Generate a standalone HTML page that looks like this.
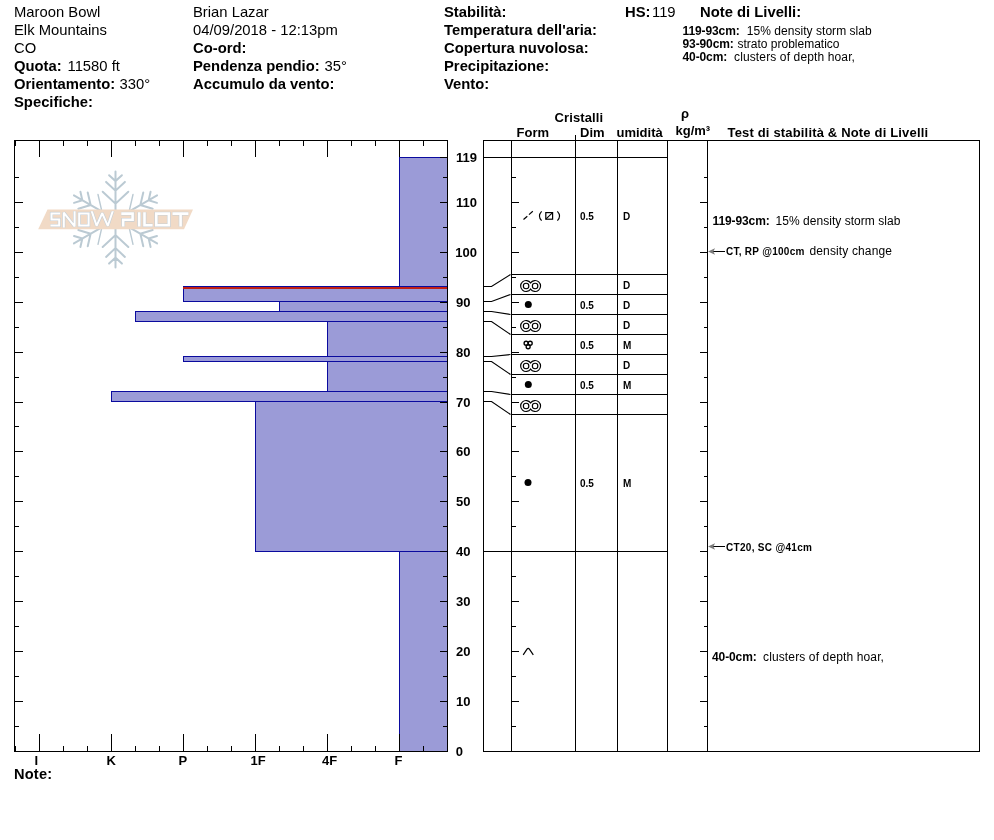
<!DOCTYPE html>
<html><head><meta charset="utf-8"><title>Snow Profile</title>
<style>html,body{margin:0;padding:0;background:#fff}#page{position:relative;width:994px;height:840px;overflow:hidden;background:#fff;will-change:transform;font-family:"Liberation Sans",sans-serif;color:#000}#page svg{position:absolute;left:0;top:0;display:block}#page span{position:absolute;white-space:pre}#page .b{font-weight:bold}</style>
</head><body>
<div id="page">
<svg width="994" height="840" viewBox="0 0 994 840">
<rect width="994" height="840" fill="#fff"/>
<g id="bars" shape-rendering="crispEdges">
<rect x="399" y="157" width="48" height="129" fill="#9b9bd7"/>
<rect x="183" y="286" width="264" height="15" fill="#9b9bd7"/>
<rect x="279" y="301" width="168" height="10" fill="#9b9bd7"/>
<rect x="135" y="311" width="312" height="10" fill="#9b9bd7"/>
<rect x="327" y="321" width="120" height="35" fill="#9b9bd7"/>
<rect x="183" y="356" width="264" height="5" fill="#9b9bd7"/>
<rect x="327" y="361" width="120" height="30" fill="#9b9bd7"/>
<rect x="111" y="391" width="336" height="10" fill="#9b9bd7"/>
<rect x="255" y="401" width="192" height="150" fill="#9b9bd7"/>
<rect x="399" y="551" width="48" height="200" fill="#9b9bd7"/>
<rect x="399" y="157" width="48" height="1" fill="#0a0a9e"/>
<rect x="399" y="286" width="48" height="1" fill="#0a0a9e"/>
<rect x="399" y="157" width="1" height="130" fill="#0a0a9e"/>
<rect x="183" y="286" width="264" height="1" fill="#0a0a9e"/>
<rect x="183" y="301" width="264" height="1" fill="#0a0a9e"/>
<rect x="183" y="286" width="1" height="16" fill="#0a0a9e"/>
<rect x="279" y="301" width="168" height="1" fill="#0a0a9e"/>
<rect x="279" y="311" width="168" height="1" fill="#0a0a9e"/>
<rect x="279" y="301" width="1" height="11" fill="#0a0a9e"/>
<rect x="135" y="311" width="312" height="1" fill="#0a0a9e"/>
<rect x="135" y="321" width="312" height="1" fill="#0a0a9e"/>
<rect x="135" y="311" width="1" height="11" fill="#0a0a9e"/>
<rect x="327" y="321" width="120" height="1" fill="#0a0a9e"/>
<rect x="327" y="356" width="120" height="1" fill="#0a0a9e"/>
<rect x="327" y="321" width="1" height="36" fill="#0a0a9e"/>
<rect x="183" y="356" width="264" height="1" fill="#0a0a9e"/>
<rect x="183" y="361" width="264" height="1" fill="#0a0a9e"/>
<rect x="183" y="356" width="1" height="6" fill="#0a0a9e"/>
<rect x="327" y="361" width="120" height="1" fill="#0a0a9e"/>
<rect x="327" y="391" width="120" height="1" fill="#0a0a9e"/>
<rect x="327" y="361" width="1" height="31" fill="#0a0a9e"/>
<rect x="111" y="391" width="336" height="1" fill="#0a0a9e"/>
<rect x="111" y="401" width="336" height="1" fill="#0a0a9e"/>
<rect x="111" y="391" width="1" height="11" fill="#0a0a9e"/>
<rect x="255" y="401" width="192" height="1" fill="#0a0a9e"/>
<rect x="255" y="551" width="192" height="1" fill="#0a0a9e"/>
<rect x="255" y="401" width="1" height="151" fill="#0a0a9e"/>
<rect x="399" y="551" width="48" height="1" fill="#0a0a9e"/>
<rect x="399" y="551" width="1" height="200" fill="#0a0a9e"/>
<rect x="183" y="287" width="264" height="2" fill="#c02016"/>
</g>
<g id="leftaxes" shape-rendering="crispEdges">
<rect x="14" y="140" width="434" height="1" fill="#000"/>
<rect x="14" y="751" width="434" height="1" fill="#000"/>
<rect x="14" y="140" width="1" height="612" fill="#000"/>
<rect x="447" y="140" width="1" height="612" fill="#000"/>
<rect x="15" y="140" width="1" height="6" fill="#000"/>
<rect x="15" y="746" width="1" height="5" fill="#000"/>
<rect x="39" y="140" width="1" height="17" fill="#000"/>
<rect x="39" y="734" width="1" height="18" fill="#000"/>
<rect x="63" y="140" width="1" height="6" fill="#000"/>
<rect x="63" y="746" width="1" height="6" fill="#000"/>
<rect x="87" y="140" width="1" height="6" fill="#000"/>
<rect x="87" y="746" width="1" height="6" fill="#000"/>
<rect x="111" y="140" width="1" height="17" fill="#000"/>
<rect x="111" y="734" width="1" height="18" fill="#000"/>
<rect x="135" y="140" width="1" height="6" fill="#000"/>
<rect x="135" y="746" width="1" height="6" fill="#000"/>
<rect x="159" y="140" width="1" height="6" fill="#000"/>
<rect x="159" y="746" width="1" height="6" fill="#000"/>
<rect x="183" y="140" width="1" height="17" fill="#000"/>
<rect x="183" y="734" width="1" height="18" fill="#000"/>
<rect x="207" y="140" width="1" height="6" fill="#000"/>
<rect x="207" y="746" width="1" height="6" fill="#000"/>
<rect x="231" y="140" width="1" height="6" fill="#000"/>
<rect x="231" y="746" width="1" height="6" fill="#000"/>
<rect x="255" y="140" width="1" height="17" fill="#000"/>
<rect x="255" y="734" width="1" height="18" fill="#000"/>
<rect x="279" y="140" width="1" height="6" fill="#000"/>
<rect x="279" y="746" width="1" height="6" fill="#000"/>
<rect x="303" y="140" width="1" height="6" fill="#000"/>
<rect x="303" y="746" width="1" height="6" fill="#000"/>
<rect x="327" y="140" width="1" height="17" fill="#000"/>
<rect x="327" y="734" width="1" height="18" fill="#000"/>
<rect x="351" y="140" width="1" height="6" fill="#000"/>
<rect x="351" y="746" width="1" height="6" fill="#000"/>
<rect x="375" y="140" width="1" height="6" fill="#000"/>
<rect x="375" y="746" width="1" height="6" fill="#000"/>
<rect x="399" y="140" width="1" height="17" fill="#000"/>
<rect x="399" y="734" width="1" height="18" fill="#000"/>
<rect x="423" y="140" width="1" height="6" fill="#000"/>
<rect x="423" y="746" width="1" height="6" fill="#000"/>
<rect x="14" y="726" width="5" height="1" fill="#000"/>
<rect x="443" y="726" width="4" height="1" fill="#000"/>
<rect x="14" y="701" width="9" height="1" fill="#000"/>
<rect x="440" y="701" width="7" height="1" fill="#000"/>
<rect x="14" y="676" width="5" height="1" fill="#000"/>
<rect x="443" y="676" width="4" height="1" fill="#000"/>
<rect x="14" y="651" width="9" height="1" fill="#000"/>
<rect x="440" y="651" width="7" height="1" fill="#000"/>
<rect x="14" y="626" width="5" height="1" fill="#000"/>
<rect x="443" y="626" width="4" height="1" fill="#000"/>
<rect x="14" y="601" width="9" height="1" fill="#000"/>
<rect x="440" y="601" width="7" height="1" fill="#000"/>
<rect x="14" y="576" width="5" height="1" fill="#000"/>
<rect x="443" y="576" width="4" height="1" fill="#000"/>
<rect x="14" y="551" width="9" height="1" fill="#000"/>
<rect x="440" y="551" width="7" height="1" fill="#000"/>
<rect x="14" y="526" width="5" height="1" fill="#000"/>
<rect x="443" y="526" width="4" height="1" fill="#000"/>
<rect x="14" y="501" width="9" height="1" fill="#000"/>
<rect x="440" y="501" width="7" height="1" fill="#000"/>
<rect x="14" y="476" width="5" height="1" fill="#000"/>
<rect x="443" y="476" width="4" height="1" fill="#000"/>
<rect x="14" y="451" width="9" height="1" fill="#000"/>
<rect x="440" y="451" width="7" height="1" fill="#000"/>
<rect x="14" y="426" width="5" height="1" fill="#000"/>
<rect x="443" y="426" width="4" height="1" fill="#000"/>
<rect x="14" y="402" width="9" height="1" fill="#000"/>
<rect x="440" y="402" width="7" height="1" fill="#000"/>
<rect x="14" y="377" width="5" height="1" fill="#000"/>
<rect x="443" y="377" width="4" height="1" fill="#000"/>
<rect x="14" y="352" width="9" height="1" fill="#000"/>
<rect x="440" y="352" width="7" height="1" fill="#000"/>
<rect x="14" y="327" width="5" height="1" fill="#000"/>
<rect x="443" y="327" width="4" height="1" fill="#000"/>
<rect x="14" y="302" width="9" height="1" fill="#000"/>
<rect x="440" y="302" width="7" height="1" fill="#000"/>
<rect x="14" y="277" width="5" height="1" fill="#000"/>
<rect x="443" y="277" width="4" height="1" fill="#000"/>
<rect x="14" y="252" width="9" height="1" fill="#000"/>
<rect x="440" y="252" width="7" height="1" fill="#000"/>
<rect x="14" y="227" width="5" height="1" fill="#000"/>
<rect x="443" y="227" width="4" height="1" fill="#000"/>
<rect x="14" y="202" width="9" height="1" fill="#000"/>
<rect x="440" y="202" width="7" height="1" fill="#000"/>
<rect x="14" y="177" width="5" height="1" fill="#000"/>
<rect x="443" y="177" width="4" height="1" fill="#000"/>
<rect x="440" y="157" width="7" height="1" fill="#000"/>
</g>
<g id="table" shape-rendering="crispEdges">
<rect x="483" y="140" width="497" height="1" fill="#000"/>
<rect x="483" y="751" width="497" height="1" fill="#000"/>
<rect x="483" y="140" width="1" height="612" fill="#000"/>
<rect x="511" y="140" width="1" height="612" fill="#000"/>
<rect x="575" y="140" width="1" height="612" fill="#000"/>
<rect x="617" y="140" width="1" height="612" fill="#000"/>
<rect x="667" y="140" width="1" height="612" fill="#000"/>
<rect x="707" y="140" width="1" height="612" fill="#000"/>
<rect x="979" y="140" width="1" height="612" fill="#000"/>
<rect x="575" y="135" width="1" height="5" fill="#000"/>
<rect x="483" y="157" width="184" height="1" fill="#000"/>
<rect x="511" y="274" width="156" height="1" fill="#000"/>
<rect x="511" y="294" width="156" height="1" fill="#000"/>
<rect x="511" y="314" width="156" height="1" fill="#000"/>
<rect x="511" y="334" width="156" height="1" fill="#000"/>
<rect x="511" y="354" width="156" height="1" fill="#000"/>
<rect x="511" y="374" width="156" height="1" fill="#000"/>
<rect x="511" y="394" width="156" height="1" fill="#000"/>
<rect x="511" y="414" width="156" height="1" fill="#000"/>
<rect x="483" y="551" width="184" height="1" fill="#000"/>
<rect x="511" y="726" width="5" height="1" fill="#000"/>
<rect x="704" y="726" width="3" height="1" fill="#000"/>
<rect x="511" y="701" width="8" height="1" fill="#000"/>
<rect x="700" y="701" width="7" height="1" fill="#000"/>
<rect x="511" y="676" width="5" height="1" fill="#000"/>
<rect x="704" y="676" width="3" height="1" fill="#000"/>
<rect x="511" y="651" width="8" height="1" fill="#000"/>
<rect x="700" y="651" width="7" height="1" fill="#000"/>
<rect x="511" y="626" width="5" height="1" fill="#000"/>
<rect x="704" y="626" width="3" height="1" fill="#000"/>
<rect x="511" y="601" width="8" height="1" fill="#000"/>
<rect x="700" y="601" width="7" height="1" fill="#000"/>
<rect x="511" y="576" width="5" height="1" fill="#000"/>
<rect x="704" y="576" width="3" height="1" fill="#000"/>
<rect x="511" y="551" width="8" height="1" fill="#000"/>
<rect x="700" y="551" width="7" height="1" fill="#000"/>
<rect x="511" y="526" width="5" height="1" fill="#000"/>
<rect x="704" y="526" width="3" height="1" fill="#000"/>
<rect x="511" y="501" width="8" height="1" fill="#000"/>
<rect x="700" y="501" width="7" height="1" fill="#000"/>
<rect x="511" y="476" width="5" height="1" fill="#000"/>
<rect x="704" y="476" width="3" height="1" fill="#000"/>
<rect x="511" y="451" width="8" height="1" fill="#000"/>
<rect x="700" y="451" width="7" height="1" fill="#000"/>
<rect x="511" y="426" width="5" height="1" fill="#000"/>
<rect x="704" y="426" width="3" height="1" fill="#000"/>
<rect x="511" y="402" width="8" height="1" fill="#000"/>
<rect x="700" y="402" width="7" height="1" fill="#000"/>
<rect x="511" y="377" width="5" height="1" fill="#000"/>
<rect x="704" y="377" width="3" height="1" fill="#000"/>
<rect x="511" y="352" width="8" height="1" fill="#000"/>
<rect x="700" y="352" width="7" height="1" fill="#000"/>
<rect x="511" y="327" width="5" height="1" fill="#000"/>
<rect x="704" y="327" width="3" height="1" fill="#000"/>
<rect x="511" y="302" width="8" height="1" fill="#000"/>
<rect x="700" y="302" width="7" height="1" fill="#000"/>
<rect x="511" y="277" width="5" height="1" fill="#000"/>
<rect x="704" y="277" width="3" height="1" fill="#000"/>
<rect x="511" y="252" width="8" height="1" fill="#000"/>
<rect x="700" y="252" width="7" height="1" fill="#000"/>
<rect x="511" y="227" width="5" height="1" fill="#000"/>
<rect x="704" y="227" width="3" height="1" fill="#000"/>
<rect x="511" y="202" width="8" height="1" fill="#000"/>
<rect x="700" y="202" width="7" height="1" fill="#000"/>
<rect x="511" y="177" width="5" height="1" fill="#000"/>
<rect x="704" y="177" width="3" height="1" fill="#000"/>
</g>
<g id="conn" fill="none" stroke="#000" stroke-width="1.15">
<path d="M483.5 286.5H491.5L510.5 274.5"/>
<path d="M483.5 301.5H491.5L510.5 294.5"/>
<path d="M483.5 311.5H491.5L510.5 314.5"/>
<path d="M483.5 321.5H491.5L510.5 334.5"/>
<path d="M483.5 356.5H491.5L510.5 354.5"/>
<path d="M483.5 361.5H491.5L510.5 374.5"/>
<path d="M483.5 391.5H491.5L510.5 394.5"/>
<path d="M483.5 401.5H491.5L510.5 414.5"/>
</g>
<g id="sym" stroke="#000" fill="none" stroke-width="1">
<path d="M523.5 219.5L527.3 216.2M529 214.6L532.8 211.3" stroke-width="1.2"/>
<path d="M541.6 211.3Q537.3 216 541.6 220.7M557.4 211.3Q561.7 216 557.4 220.7" stroke-width="1.1"/>
<rect x="545.8" y="212.6" width="6.8" height="6.6" stroke-width="1.2"/><path d="M545.8 219.2L552.6 212.6" stroke-width="1.1"/>
<path d="M530.6 282.93A5.45 5.45 0 1 0 530.6 289.07A5.45 5.45 0 1 0 530.6 282.93Z" stroke-width="1.15"/>
<circle cx="526.1" cy="286" r="2.75" stroke-width="1.15"/>
<circle cx="535.1" cy="286" r="2.75" stroke-width="1.15"/>
<circle cx="528.3" cy="304.5" r="3.5" fill="#000" stroke="none"/>
<path d="M530.6 322.93A5.45 5.45 0 1 0 530.6 329.07A5.45 5.45 0 1 0 530.6 322.93Z" stroke-width="1.15"/>
<circle cx="526.1" cy="326" r="2.75" stroke-width="1.15"/>
<circle cx="535.1" cy="326" r="2.75" stroke-width="1.15"/>
<circle cx="526.1" cy="343.2" r="2.0" stroke-width="1.35"/>
<circle cx="530.2" cy="343.2" r="2.0" stroke-width="1.35"/>
<circle cx="528.15" cy="346.7" r="2.0" stroke-width="1.35"/>
<path d="M530.6 362.93A5.45 5.45 0 1 0 530.6 369.07A5.45 5.45 0 1 0 530.6 362.93Z" stroke-width="1.15"/>
<circle cx="526.1" cy="366" r="2.75" stroke-width="1.15"/>
<circle cx="535.1" cy="366" r="2.75" stroke-width="1.15"/>
<circle cx="528.3" cy="384.5" r="3.5" fill="#000" stroke="none"/>
<path d="M530.6 402.93A5.45 5.45 0 1 0 530.6 409.07A5.45 5.45 0 1 0 530.6 402.93Z" stroke-width="1.15"/>
<circle cx="526.1" cy="406" r="2.75" stroke-width="1.15"/>
<circle cx="535.1" cy="406" r="2.75" stroke-width="1.15"/>
<circle cx="528" cy="482.5" r="3.5" fill="#000" stroke="none"/>
<path d="M523.2 654.8L527 649.2Q528.2 647.6 529.4 649.2L533.3 654.8" stroke-width="1.2"/>
</g>
<path d="M712 251.5H725" stroke="#000" stroke-width="1" fill="none" shape-rendering="crispEdges"/>
<path d="M708 251.5L715 248.2L713.4 251.5L715 254.8Z" fill="#7c7c7c"/>
<path d="M712 546.5H725" stroke="#000" stroke-width="1" fill="none" shape-rendering="crispEdges"/>
<path d="M708 546.5L715 543.2L713.4 546.5L715 549.8Z" fill="#7c7c7c"/>
<g id="logo">
<g transform="translate(115.5 219.4)" stroke="#bbcad3" stroke-width="2" fill="none" stroke-linecap="round">
<path transform="rotate(0)" d="M0 0V-48M-9.4 -37.5L0 -28.7L9.4 -37.5M-6.4 -44.2L0 -38.3L6.4 -44.2M-12.8 -27.6L0 -15.7L12.8 -27.6"/>
<path transform="rotate(60)" d="M0 0V-48M-9.4 -37.5L0 -28.7L9.4 -37.5M-6.4 -44.2L0 -38.3L6.4 -44.2"/><path transform="rotate(60)" d="M-12.8 -27.6L0 -15.7L12.8 -27.6" stroke-width="1.4"/>
<path transform="rotate(120)" d="M0 0V-48M-9.4 -37.5L0 -28.7L9.4 -37.5M-6.4 -44.2L0 -38.3L6.4 -44.2"/><path transform="rotate(120)" d="M-12.8 -27.6L0 -15.7L12.8 -27.6" stroke-width="1.4"/>
<path transform="rotate(180)" d="M0 0V-48M-9.4 -37.5L0 -28.7L9.4 -37.5M-6.4 -44.2L0 -38.3L6.4 -44.2M-12.8 -27.6L0 -15.7L12.8 -27.6"/>
<path transform="rotate(240)" d="M0 0V-48M-9.4 -37.5L0 -28.7L9.4 -37.5M-6.4 -44.2L0 -38.3L6.4 -44.2"/><path transform="rotate(240)" d="M-12.8 -27.6L0 -15.7L12.8 -27.6" stroke-width="1.4"/>
<path transform="rotate(300)" d="M0 0V-48M-9.4 -37.5L0 -28.7L9.4 -37.5M-6.4 -44.2L0 -38.3L6.4 -44.2"/><path transform="rotate(300)" d="M-12.8 -27.6L0 -15.7L12.8 -27.6" stroke-width="1.4"/>
</g>
<path d="M47.5 209.5H193L184 229.3H38.2Z" fill="#f1dac6"/>
<clipPath id="lc"><rect x="40" y="211.2" width="155" height="16.4"/></clipPath><g clip-path="url(#lc)" stroke-miterlimit="2">
<path d="M60.2 213.4H51.5V219.4H59.2V225.6H50.5M63.8 229V212.6L74.6 226.4V210M79.2 213.4H88.6V225.6H79.2ZM91.5 210.4L96.6 225.8L102.2 213.2L107.8 225.8L113 210.4" stroke="#c6cfd6" stroke-width="3.2" fill="none"/>
<path d="M60.2 213.4H51.5V219.4H59.2V225.6H50.5M63.8 229V212.6L74.6 226.4V210M79.2 213.4H88.6V225.6H79.2ZM91.5 210.4L96.6 225.8L102.2 213.2L107.8 225.8L113 210.4" stroke="#fff" stroke-width="2.0" fill="none"/>
<path d="M121.3 213.6H132.6V219.8H123.2V226.5M139.2 212.3V226.5M144.5 212.3V225.3H152.6M156.3 213.6H168.8V225.3H156.3ZM172.5 213.6H188.4M180.6 213.6V226.5" stroke="#c6cfd6" stroke-width="3.8" fill="none"/>
<path d="M121.3 213.6H132.6V219.8H123.2V226.5M139.2 212.3V226.5M144.5 212.3V225.3H152.6M156.3 213.6H168.8V225.3H156.3ZM172.5 213.6H188.4M180.6 213.6V226.5" stroke="#fff" stroke-width="2.6" fill="none"/>
</g>
</g>
</svg>
<span style="left:14px;top:4px;font-size:14.8px;line-height:16px;">Maroon Bowl</span>
<span style="left:14px;top:22px;font-size:14.8px;line-height:16px;">Elk Mountains</span>
<span style="left:14px;top:40px;font-size:14.8px;line-height:16px;">CO</span>
<span class="b" style="left:14px;top:58px;font-size:14.8px;line-height:16px;">Quota:</span>
<span style="left:67.5px;top:58px;font-size:14.8px;line-height:16px;">11580 ft</span>
<span class="b" style="left:14px;top:76px;font-size:14.8px;line-height:16px;">Orientamento:</span>
<span style="left:119.5px;top:76px;font-size:14.8px;line-height:16px;">330°</span>
<span class="b" style="left:14px;top:94px;font-size:14.8px;line-height:16px;">Specifiche:</span>
<span style="left:193px;top:4px;font-size:14.8px;line-height:16px;">Brian Lazar</span>
<span style="left:193px;top:22px;font-size:14.8px;line-height:16px;">04/09/2018 - 12:13pm</span>
<span class="b" style="left:193px;top:40px;font-size:14.8px;line-height:16px;">Co-ord:</span>
<span class="b" style="left:193px;top:58px;font-size:14.8px;line-height:16px;">Pendenza pendio:</span>
<span style="left:324.5px;top:58px;font-size:14.8px;line-height:16px;">35°</span>
<span class="b" style="left:193px;top:76px;font-size:14.8px;line-height:16px;">Accumulo da vento:</span>
<span class="b" style="left:444px;top:4px;font-size:14.8px;line-height:16px;">Stabilità:</span>
<span class="b" style="left:444px;top:22px;font-size:14.8px;line-height:16px;">Temperatura dell'aria:</span>
<span class="b" style="left:444px;top:40px;font-size:14.8px;line-height:16px;">Copertura nuvolosa:</span>
<span class="b" style="left:444px;top:58px;font-size:14.8px;line-height:16px;">Precipitazione:</span>
<span class="b" style="left:444px;top:76px;font-size:14.8px;line-height:16px;">Vento:</span>
<span class="b" style="left:625px;top:4px;font-size:14.8px;line-height:16px;">HS:</span>
<span style="left:652px;top:4px;font-size:14.8px;line-height:16px;">119</span>
<span class="b" style="left:700px;top:4px;font-size:14.8px;line-height:16px;">Note di Livelli:</span>
<span class="b" style="left:682.5px;top:24px;font-size:12px;line-height:14px;letter-spacing:-0.1px;">119-93cm:</span>
<span style="left:746.8px;top:24px;font-size:12px;line-height:14px;letter-spacing:0.04px;">15% density storm slab</span>
<span class="b" style="left:682.5px;top:36px;font-size:12px;line-height:14px;letter-spacing:-0.1px;transform:translateY(0.5px);">93-90cm:</span>
<span style="left:737.5px;top:36px;font-size:12px;line-height:14px;transform:translateY(0.5px);">strato problematico</span>
<span class="b" style="left:682.5px;top:49px;font-size:12px;line-height:14px;letter-spacing:-0.1px;transform:translateY(0.5px);">40-0cm:</span>
<span style="left:734px;top:49px;font-size:12px;line-height:14px;letter-spacing:0.13px;transform:translateY(0.5px);">clusters of depth hoar,</span>
<span class="b" style="left:34.5px;top:752px;font-size:13px;line-height:15px;transform:translateY(0.6px);">I</span>
<span class="b" style="left:106.5px;top:752px;font-size:13px;line-height:15px;transform:translateY(0.6px);">K</span>
<span class="b" style="left:178.5px;top:752px;font-size:13px;line-height:15px;transform:translateY(0.6px);">P</span>
<span class="b" style="left:250.5px;top:752px;font-size:13px;line-height:15px;transform:translateY(0.6px);">1F</span>
<span class="b" style="left:322px;top:752px;font-size:13px;line-height:15px;transform:translateY(0.6px);">4F</span>
<span class="b" style="left:394.5px;top:752px;font-size:13px;line-height:15px;transform:translateY(0.6px);">F</span>
<span class="b" style="left:14px;top:766px;font-size:14.6px;line-height:16px;letter-spacing:0.2px;">Note:</span>
<span class="b" style="right:517.00px;top:150px;font-size:13px;line-height:15px;">119</span>
<span class="b" style="right:517.00px;top:195px;font-size:13px;line-height:15px;">110</span>
<span class="b" style="right:517.00px;top:245px;font-size:13px;line-height:15px;">100</span>
<span class="b" style="right:523.50px;top:295px;font-size:13px;line-height:15px;">90</span>
<span class="b" style="right:523.50px;top:345px;font-size:13px;line-height:15px;">80</span>
<span class="b" style="right:523.50px;top:395px;font-size:13px;line-height:15px;">70</span>
<span class="b" style="right:523.50px;top:444px;font-size:13px;line-height:15px;">60</span>
<span class="b" style="right:523.50px;top:494px;font-size:13px;line-height:15px;">50</span>
<span class="b" style="right:523.50px;top:544px;font-size:13px;line-height:15px;">40</span>
<span class="b" style="right:523.50px;top:594px;font-size:13px;line-height:15px;">30</span>
<span class="b" style="right:523.50px;top:644px;font-size:13px;line-height:15px;">20</span>
<span class="b" style="right:523.50px;top:694px;font-size:13px;line-height:15px;">10</span>
<span class="b" style="right:531.00px;top:744px;font-size:13px;line-height:15px;">0</span>
<span class="b" style="left:554.5px;top:110px;font-size:13px;line-height:15px;letter-spacing:0.12px;">Cristalli</span>
<span class="b" style="left:516.5px;top:125px;font-size:13px;line-height:15px;">Form</span>
<span class="b" style="left:580px;top:125px;font-size:13px;line-height:15px;">Dim</span>
<span class="b" style="left:616.5px;top:125px;font-size:13px;line-height:15px;">umidità</span>
<span class="b" style="left:681px;top:106px;font-size:13px;line-height:15px;">ρ</span>
<span class="b" style="left:675.5px;top:123px;font-size:13px;line-height:15px;">kg/m³</span>
<span class="b" style="left:727.5px;top:125px;font-size:13px;line-height:15px;letter-spacing:0.17px;">Test di stabilità &amp; Note di Livelli</span>
<span class="b" style="left:580px;top:211px;font-size:10px;line-height:11px;">0.5</span>
<span class="b" style="left:623px;top:211px;font-size:10px;line-height:11px;">D</span>
<span class="b" style="left:623px;top:280px;font-size:10px;line-height:11px;">D</span>
<span class="b" style="left:580px;top:300px;font-size:10px;line-height:11px;">0.5</span>
<span class="b" style="left:623px;top:300px;font-size:10px;line-height:11px;">D</span>
<span class="b" style="left:623px;top:320px;font-size:10px;line-height:11px;">D</span>
<span class="b" style="left:580px;top:340px;font-size:10px;line-height:11px;">0.5</span>
<span class="b" style="left:623px;top:340px;font-size:10px;line-height:11px;">M</span>
<span class="b" style="left:623px;top:360px;font-size:10px;line-height:11px;">D</span>
<span class="b" style="left:580px;top:380px;font-size:10px;line-height:11px;">0.5</span>
<span class="b" style="left:623px;top:380px;font-size:10px;line-height:11px;">M</span>
<span class="b" style="left:580px;top:478px;font-size:10px;line-height:11px;">0.5</span>
<span class="b" style="left:623px;top:478px;font-size:10px;line-height:11px;">M</span>
<span class="b" style="left:712.5px;top:214px;font-size:12px;line-height:14px;letter-spacing:-0.1px;">119-93cm:</span>
<span style="left:775.5px;top:214px;font-size:12px;line-height:14px;letter-spacing:0.04px;">15% density storm slab</span>
<span class="b" style="left:726px;top:246px;font-size:10px;line-height:11px;letter-spacing:0.27px;transform:translateY(0.4px);">CT, RP @100cm</span>
<span style="left:809.5px;top:244px;font-size:12px;line-height:14px;letter-spacing:0.13px;">density change</span>
<span class="b" style="left:726px;top:542px;font-size:10px;line-height:11px;letter-spacing:0.3px;transform:translateY(0.2px);">CT20, SC @41cm</span>
<span class="b" style="left:712px;top:650px;font-size:12px;line-height:14px;letter-spacing:-0.1px;">40-0cm:</span>
<span style="left:763px;top:650px;font-size:12px;line-height:14px;letter-spacing:0.13px;">clusters of depth hoar,</span>
</div></body></html>
